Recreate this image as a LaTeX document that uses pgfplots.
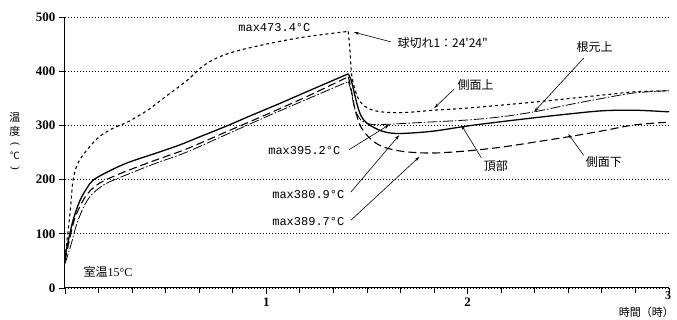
\documentclass[border=0pt]{standalone}
\usepackage{fontspec}
\setmainfont{Liberation Serif}
\newfontfamily\jp{Noto Sans CJK JP}
\newfontfamily\mono{Liberation Mono}
\usepackage{pgfplots}
\pgfplotsset{compat=1.18}
\usetikzlibrary{arrows.meta}
\tikzset{annot/.style={-{Stealth[length=5pt,width=3pt]}, line width=0.6pt}}
\begin{document}
\begin{tikzpicture}
\begin{axis}[
 scale only axis, width=604pt, height=271pt,
 at={(0,0)}, anchor=south west,
 xmin=0, xmax=3, ymin=0, ymax=500,
 axis x line*=bottom, axis y line*=left,
 axis line style={line width=1pt},
 xtick={0,1,2,3}, xticklabels={,1,2,},
 minor x tick num=5,
 ytick={0,100,200,300,400,500},
 tick align=outside,
 major tick length=6pt, minor tick length=5pt,
 tick style={black, line width=0.8pt},
 ymajorgrids, grid style={black, line width=0.7pt, dash pattern=on 1pt off 2pt},
 clip=false,
 /pgf/number format/assume math mode=true,
 tick label style={font=\fontsize{13}{13}\selectfont\bfseries},
]
% solid (頂部)
\addplot[black, line width=1.3pt, smooth, tension=0.5] coordinates {
(0,55) (0.01,76) (0.04,125) (0.075,162) (0.11,185) (0.14,199) (0.21,214) (0.31,231)
(0.47,251) (0.57,264) (0.67,279) (0.81,300) (0.91,316) (1.07,341) (1.2,362) (1.407,395.2)};
\addplot[black, line width=1.3pt, smooth, tension=0.5] coordinates {
(1.407,395.2) (1.42,385) (1.43,371) (1.45,340) (1.47,318) (1.5,304) (1.57,290) (1.65,285)
(1.82,289) (2.0,299) (2.17,307) (2.33,314) (2.5,321) (2.67,327) (2.83,328) (3.0,325)};
% long dash (側面下)
\addplot[black, line width=1.1pt, dash pattern=on 8pt off 4pt, smooth, tension=0.5] coordinates {
(0,50) (0.02,85) (0.05,130) (0.1,168) (0.15,188) (0.2,199) (0.3,215) (0.45,236)
(0.6,256) (0.8,288) (1.0,320) (1.2,353) (1.407,389.7)};
\addplot[black, line width=1.1pt, dash pattern=on 8pt off 4pt, smooth, tension=0.5] coordinates {
(1.407,389.7) (1.42,370) (1.44,330) (1.47,297) (1.52,274) (1.57,262) (1.62,256) (1.7,251)
(1.83,249) (2.0,253) (2.17,260) (2.33,269) (2.5,279) (2.67,290) (2.83,301) (3.0,306)};
% dash-dot (根元上)
\addplot[black, line width=0.8pt, dash pattern=on 10pt off 2pt on 1.5pt off 2pt, smooth, tension=0.5] coordinates {
(0,45) (0.03,80) (0.06,120) (0.1,155) (0.14,175) (0.2,192) (0.3,208) (0.45,230)
(0.6,250) (0.8,283) (1.0,316) (1.2,348) (1.407,380.9)};
\addplot[black, line width=0.8pt, dash pattern=on 10pt off 2pt on 1.5pt off 2pt, smooth, tension=0.5] coordinates {
(1.407,380.9) (1.42,365) (1.44,330) (1.47,310) (1.52,302) (1.6,302) (1.75,305) (2.0,310)
(2.17,316) (2.33,325) (2.5,338) (2.67,350) (2.83,360) (3.0,364)};
% short dash (側面上)
\addplot[black, line width=1.1pt, dash pattern=on 3pt off 3pt, smooth, tension=0.5] coordinates {
(0,55) (0.025,138) (0.04,199) (0.065,231) (0.11,255) (0.17,279) (0.24,295) (0.31,306)
(0.41,328) (0.51,356) (0.61,384) (0.67,405) (0.74,422) (0.84,436) (1.0,450) (1.17,462)
(1.33,470) (1.407,473.4)};
\addplot[black, line width=1.1pt, dash pattern=on 3pt off 3pt, smooth, tension=0.5] coordinates {
(1.407,473.4) (1.415,440) (1.425,390) (1.45,355) (1.48,338) (1.53,328) (1.6,324) (1.7,324)
(1.83,328) (2.0,332) (2.33,343) (2.67,356) (2.83,362) (3.0,364)};

% annotations
\node[font=\mono\fontsize{12}{12}\selectfont] at (axis cs:1.04,480) {max473.4°C};
\node[anchor=west, font=\jp\fontsize{12}{12}\selectfont] at (axis cs:1.634,452) {球切れ1：24'24"};
\draw[annot] (axis cs:1.62,454) -- (axis cs:1.435,472);
\node[font=\jp\fontsize{12}{12}\selectfont] at (axis cs:2.63,445) {根元上};
\draw[annot] (axis cs:2.576,424) -- (axis cs:2.33,325);
\node[font=\jp\fontsize{12}{12}\selectfont] at (axis cs:2.04,375) {側面上};
\draw[annot] (axis cs:1.933,367) -- (axis cs:1.834,332);
\node[font=\jp\fontsize{12}{12}\selectfont] at (axis cs:2.14,225) {頂部};
\draw[annot] (axis cs:2.068,240) -- (axis cs:1.968,301);
\node[font=\jp\fontsize{12}{12}\selectfont] at (axis cs:2.676,232) {側面下};
\draw[annot] (axis cs:2.576,245) -- (axis cs:2.50,284);
\node[anchor=east, font=\mono\fontsize{12}{12}\selectfont] at (axis cs:1.385,253) {max395.2°C};
\draw[annot] (axis cs:1.41,255) -- (axis cs:1.61,301);
\node[anchor=east, font=\mono\fontsize{12}{12}\selectfont] at (axis cs:1.405,172) {max380.9°C};
\draw[annot] (axis cs:1.42,177) -- (axis cs:1.66,282);
\node[anchor=east, font=\mono\fontsize{12}{12}\selectfont] at (axis cs:1.405,122) {max389.7°C};
\draw[annot] (axis cs:1.42,125) -- (axis cs:1.76,242);
\node[anchor=west, font=\fontsize{12}{12}\selectfont] at (axis cs:0.075,30) {{\jp 室温}15°C};
\end{axis}
\node[anchor=north, font=\fontsize{12}{12}\selectfont\bfseries, inner sep=0pt] at (603pt,-3pt) {3};
\node[anchor=east, font=\jp\fontsize{11}{11}\selectfont, inner sep=0pt] at (609pt,-24pt) {時間（時）};
\node[font=\jp\fontsize{11}{11}\selectfont, inner sep=0pt] at (-50pt,171pt) {温};
\node[font=\jp\fontsize{11}{11}\selectfont, inner sep=0pt] at (-50pt,157pt) {度};
\node[font=\fontsize{11}{11}\selectfont, inner sep=0pt, rotate=-90] at (-50pt,144pt) {(};
\node[font=\jp\fontsize{10}{10}\selectfont, inner sep=0pt] at (-50pt,132pt) {℃};
\node[font=\fontsize{11}{11}\selectfont, inner sep=0pt, rotate=-90] at (-50pt,120pt) {)};
\pgfresetboundingbox
\path (-65pt,-32pt) rectangle (612pt,288pt);
\end{tikzpicture}
\end{document}
